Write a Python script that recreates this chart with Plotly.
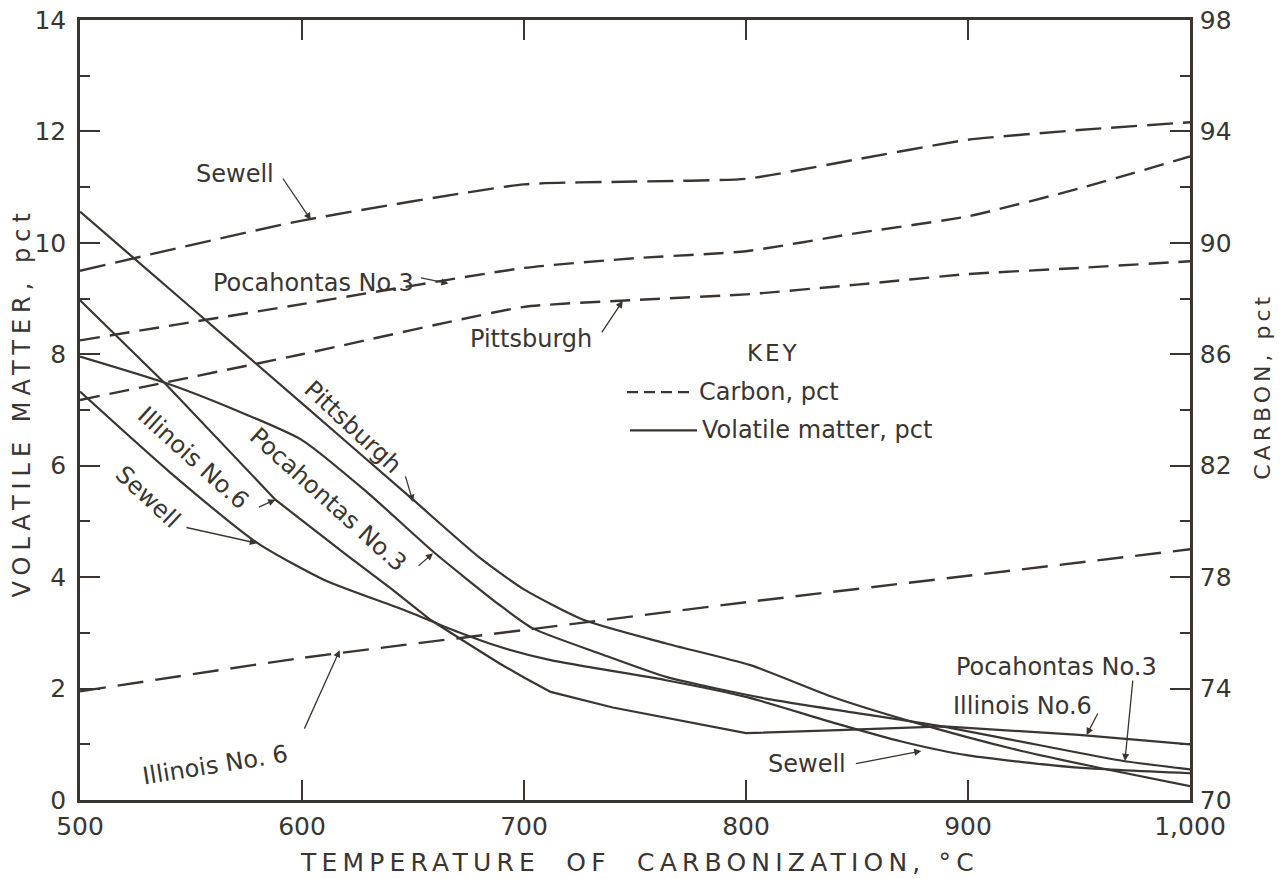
import plotly.graph_objects as go

INK = "#3a3531"
FONT = "DejaVu Sans"

# ---- Volatile matter, pct (left axis) ----
pitt_vm_t = [500, 550, 600, 650, 680, 700, 727, 764, 802, 839, 877, 920, 960, 1000]
pitt_vm = [10.56, 8.84, 7.12, 5.39, 4.35, 3.78, 3.23, 2.81, 2.42, 1.85, 1.38, 0.92, 0.57, 0.25]

poca_vm_t = [500, 539, 570, 600, 630, 659, 689, 704, 734, 764, 809, 850, 887, 930, 970, 1000]
poca_vm = [7.96, 7.48, 7.00, 6.46, 5.50, 4.46, 3.50, 3.08, 2.63, 2.21, 1.82, 1.56, 1.33, 1.00, 0.70, 0.55]

illi_vm_t = [500, 539, 588, 620, 640, 658, 675, 689, 700, 712, 740, 770, 800, 845, 889, 950, 1000]
illi_vm = [8.97, 7.45, 5.39, 4.40, 3.80, 3.23, 2.80, 2.45, 2.20, 1.94, 1.66, 1.43, 1.20, 1.26, 1.32, 1.17, 1.00]

sew_vm_t = [500, 540, 580, 610, 646, 670, 689, 712, 764, 800, 840, 870, 900, 950, 1000]
sew_vm = [7.33, 5.90, 4.61, 3.95, 3.41, 3.02, 2.75, 2.51, 2.15, 1.85, 1.38, 1.05, 0.80, 0.58, 0.48]

# ---- Carbon, pct (right axis) ----
carbon_t = [500, 600, 700, 750, 800, 850, 900, 950, 1000]
sew_c = [89.0, 90.8, 92.1, 92.2, 92.3, 93.0, 93.7, 94.05, 94.33]
poca_c = [86.5, 87.8, 89.1, 89.45, 89.7, 90.35, 90.95, 91.95, 93.1]
pitt_c = [84.36, 86.0, 87.7, 87.95, 88.15, 88.5, 88.88, 89.1, 89.34]
illi_c_t = [500, 600, 700, 800, 900, 1000]
illi_c = [73.9, 75.1, 76.1, 77.1, 78.05, 79.0]

x_ticks = [500, 600, 700, 800, 900, 1000]
x_tick_text = ["500", "600", "700", "800", "900", "1,000"]

fig = go.Figure()


def vm_line(t, v, shape="spline"):
    fig.add_trace(go.Scatter(
        x=t, y=v, mode="lines", yaxis="y", hoverinfo="skip", showlegend=False,
        line=dict(color=INK, width=2.2, shape=shape, smoothing=0.6)))


def carbon_line(t, c, dash):
    fig.add_trace(go.Scatter(
        x=t, y=c, mode="lines", yaxis="y2", hoverinfo="skip", showlegend=False,
        line=dict(color=INK, width=2.4, dash=dash, shape="spline", smoothing=0.5)))


vm_line(pitt_vm_t, pitt_vm)
vm_line(poca_vm_t, poca_vm)
vm_line(illi_vm_t, illi_vm, shape="linear")
vm_line(sew_vm_t, sew_vm)

carbon_line(carbon_t, sew_c, "26px,10px")
carbon_line(carbon_t, poca_c, "20px,10px")
carbon_line(carbon_t, pitt_c, "20px,10px")
carbon_line(illi_c_t, illi_c, "26px,12px")

label_font = dict(family=FONT, size=24, color=INK)

# curve labels: text, x, y, rotation, arrow tip (x, y), arrow tail offset (ax, ay)
labels = [
    ("Sewell", 570, 11.24, 0, (604, 10.41), (-29, -43)),
    ("Pocahontas No.3", 605, 9.28, 0, (666, 9.27), (-29, -6)),
    ("Pittsburgh", 703, 8.27, 0, (744.5, 8.96), (-22, 33)),
    ("Pittsburgh", 623, 6.70, 43, (650, 5.35), (-8, -27)),
    ("Pocahontas No.3", 612, 5.39, 42, (659, 4.43), (-16, 14)),
    ("Illinois No.6", 551, 6.14, 42, (588, 5.39), (-18, 8)),
    ("Sewell", 530.6, 5.44, 43, (579.7, 4.61), (-72, -16)),
    ("Illinois No. 6", 561, 0.62, -9, (617, 2.69), (-36, 80)),
    ("Sewell", 827.7, 0.646, 0, (879, 0.88), (-67, 13)),
    ("Pocahontas No.3", 940, 2.39, 0, (970.7, 0.70), (8, -82)),
    ("Illinois No.6", 924.5, 1.69, 0, (953.4, 1.167), (12, -23)),
]

annotations = []
for text, lx, ly, ang, tip, off in labels:
    annotations.append(dict(x=lx, y=ly, xref="x", yref="y", text=text, showarrow=False,
                            textangle=ang, font=label_font))
    annotations.append(dict(x=tip[0], y=tip[1], xref="x", yref="y", text="", showarrow=True,
                            ax=off[0], ay=off[1], arrowhead=2, arrowsize=1.1,
                            arrowwidth=1.3, arrowcolor=INK))


def spaced(text, px):
    return '<span style="letter-spacing:%spx">%s</span>' % (px, text)


# key
annotations += [
    dict(x=0.625, y=0.573, xref="paper", yref="paper", text=spaced("KEY", 3), showarrow=False,
         xanchor="center", yanchor="middle", font=dict(family=FONT, size=23, color=INK)),
    dict(x=0.5559, y=0.523, xref="paper", yref="paper", text="Carbon, pct", showarrow=False,
         xanchor="left", yanchor="middle", font=dict(family=FONT, size=24, color=INK)),
    dict(x=0.5586, y=0.474, xref="paper", yref="paper", text="Volatile matter, pct",
         showarrow=False, xanchor="left", yanchor="middle",
         font=dict(family=FONT, size=24, color=INK)),
]

# axis titles
annotations += [
    dict(x=-0.052, y=0.51, xref="paper", yref="paper",
         text=spaced("VOLATILE MATTER, pct", 6), textangle=-90, showarrow=False,
         xanchor="center", yanchor="middle", font=dict(family=FONT, size=24, color=INK)),
    dict(x=1.065, y=0.53, xref="paper", yref="paper", text=spaced("CARBON, pct", 4),
         textangle=-90, showarrow=False, xanchor="center", yanchor="middle",
         font=dict(family=FONT, size=22, color=INK)),
    dict(x=0.5045, y=-0.0795, xref="paper", yref="paper",
         text=spaced("TEMPERATURE  OF  CARBONIZATION, °C", 5.2), showarrow=False,
         xanchor="center", yanchor="middle", font=dict(family=FONT, size=25, color=INK)),
]

shapes = [
    dict(type="line", xref="paper", yref="paper", x0=0.4928, x1=0.554, y0=0.523, y1=0.523,
         line=dict(color=INK, width=2.2, dash="11px,6px")),
    dict(type="line", xref="paper", yref="paper", x0=0.4955, x1=0.5559, y0=0.474, y1=0.474,
         line=dict(color=INK, width=2.2)),
]

tick_font = dict(family=FONT, size=25, color=INK)

fig.update_layout(
    width=1284, height=879,
    margin=dict(l=80, r=94, t=20, b=79),
    paper_bgcolor="white", plot_bgcolor="white",
    showlegend=False,
    annotations=annotations,
    shapes=shapes,
    xaxis=dict(range=[500, 1000], tickvals=x_ticks, ticktext=x_tick_text,
               ticks="inside", ticklen=20, tickwidth=1.5, tickcolor=INK,
               showline=True, linewidth=2.5, linecolor=INK, mirror="ticks",
               showgrid=False, zeroline=False, tickfont=tick_font, ticklabelstandoff=2,
               automargin=False),
    yaxis=dict(range=[0, 14], dtick=2, ticks="inside", ticklen=20, tickwidth=1.5,
               tickcolor=INK, minor=dict(ticks="inside", ticklen=10, dtick=1,
                                         tickcolor=INK, tickwidth=1.5, showgrid=False),
               showline=True, linewidth=2.5, linecolor=INK, showgrid=False,
               zeroline=False, tickfont=tick_font, ticklabelstandoff=6, automargin=False),
    yaxis2=dict(range=[70, 98], tick0=70, dtick=4, overlaying="y", side="right",
                ticks="inside", ticklen=20, tickwidth=1.5, tickcolor=INK,
                minor=dict(ticks="inside", ticklen=10, tick0=70, dtick=2, tickcolor=INK,
                           tickwidth=1.5, showgrid=False),
                showline=True, linewidth=2.5, linecolor=INK, showgrid=False,
                zeroline=False, tickfont=tick_font, ticklabelstandoff=2, automargin=False),
)

fig.write_html("out.html")
